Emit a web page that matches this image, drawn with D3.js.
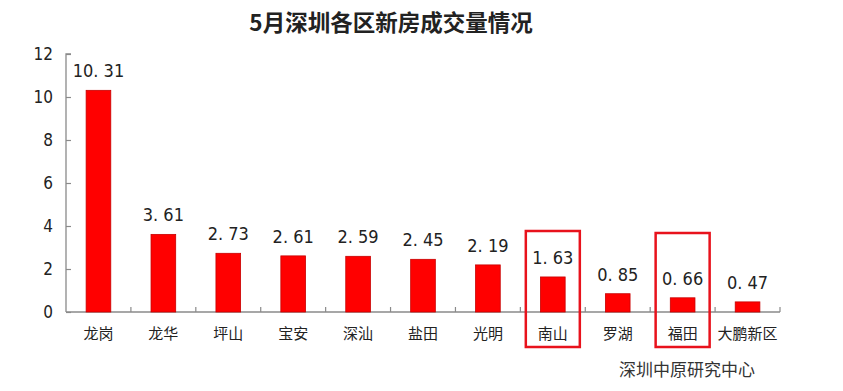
<!DOCTYPE html>
<html><head><meta charset="utf-8">
<script src="https://cdn.jsdelivr.net/npm/d3@7"></script>
<style>body{margin:0;background:#fff}svg{display:block}</style>
</head><body>
<svg id="c" width="843" height="391"></svg>
<script>
const categories = ["龙岗","龙华","坪山","宝安","深汕","盐田","光明","南山","罗湖","福田","大鹏新区"];
const values = [10.31,3.61,2.73,2.61,2.59,2.45,2.19,1.63,0.85,0.66,0.47];
const yTicks = [0,2,4,6,8,10,12];
const highlighted = ["南山","福田"];
const titleText = "5月深圳各区新房成交量情况";
const sourceText = "深圳中原研究中心";

const svg = d3.select("#c");
const mLeft = 66, mRight = 780, mTop = 54, mBottom = 312;
const x = d3.scaleBand().domain(categories).range([mLeft, mRight]).paddingInner(0.62).paddingOuter(0.31);
const xb = d3.scaleBand().domain(categories).range([mLeft, mRight]);
const y = d3.scaleLinear().domain([0, 12]).range([mBottom, mTop]);

svg.append("text").attr("x", 391).attr("y", 31).attr("text-anchor", "middle")
  .attr("font-family", "Noto Sans CJK SC").attr("font-weight", "bold").attr("font-size", 22.5)
  .attr("fill", "#222").text(titleText);

// y axis
const ya = svg.append("g").attr("transform", `translate(${mLeft},0)`)
  .call(d3.axisRight(y).tickValues(yTicks).tickSize(5).tickFormat(d3.format("d")));
ya.select(".domain").attr("stroke", "#8a8a8a").attr("stroke-width", 1.3).attr("d", `M5,${mTop}H0V${mBottom}`);
ya.selectAll(".tick line").attr("stroke", "#8a8a8a").attr("stroke-width", 1.2);
ya.selectAll(".tick text").attr("x", -13).attr("text-anchor", "end").attr("dy", "0.35em")
  .attr("font-family", "Liberation Sans Narrow, DejaVu Sans Condensed, Arial").attr("font-size", 17).attr("fill", "#222");

// x axis
const xa = svg.append("g").attr("transform", `translate(0,${mBottom})`)
  .call(d3.axisTop(xb).tickSize(0).tickFormat(""));
xa.select(".domain").attr("stroke", "#8a8a8a").attr("stroke-width", 1.3).attr("d", `M${mLeft},0H${mRight}`);
xa.selectAll(".tick").remove();
xa.selectAll(".sep").data(categories).enter().append("line")
  .attr("x1", d => xb(d) + xb.bandwidth()).attr("x2", d => xb(d) + xb.bandwidth())
  .attr("y1", 0).attr("y2", -5).attr("stroke", "#8a8a8a").attr("stroke-width", 1.2);

// bars
svg.selectAll(".bar").data(values).enter().append("rect")
  .attr("x", (d, i) => x(categories[i])).attr("width", x.bandwidth())
  .attr("y", d => y(d)).attr("height", d => y(0) - y(d))
  .attr("fill", "#ff0000").attr("stroke", "#c80000").attr("stroke-width", 0.8);

// value labels
svg.selectAll(".val").data(values).enter().append("text")
  .attr("x", (d, i) => x(categories[i]) + x.bandwidth() / 2)
  .attr("y", d => y(d) - 13).attr("text-anchor", "middle")
  .attr("font-family", "Liberation Sans Narrow, DejaVu Sans Condensed, Arial").attr("font-size", 18).attr("fill", "#222")
  .text(d => d3.format(".2f")(d).replace(".", ". "));

// category labels
svg.selectAll(".cat").data(categories).enter().append("text")
  .attr("x", d => xb(d) + xb.bandwidth() / 2).attr("y", 339).attr("text-anchor", "middle")
  .attr("font-family", "Noto Sans CJK SC").attr("font-size", 15).attr("fill", "#222").text(d => d);

// highlight boxes
svg.selectAll(".hl").data(highlighted).enter().append("rect")
  .attr("x", d => xb(d) + xb.bandwidth() / 2 - 27).attr("width", 54)
  .attr("y", (d, i) => i === 0 ? 231 : 233).attr("height", (d, i) => i === 0 ? 116 : 114)
  .attr("fill", "none").attr("stroke", "#e8121c").attr("stroke-width", 2.5);

svg.append("text").attr("x", 687).attr("y", 376).attr("text-anchor", "middle")
  .attr("font-family", "Noto Sans CJK SC").attr("font-size", 17).attr("fill", "#333").text(sourceText);
</script>
</body></html>
